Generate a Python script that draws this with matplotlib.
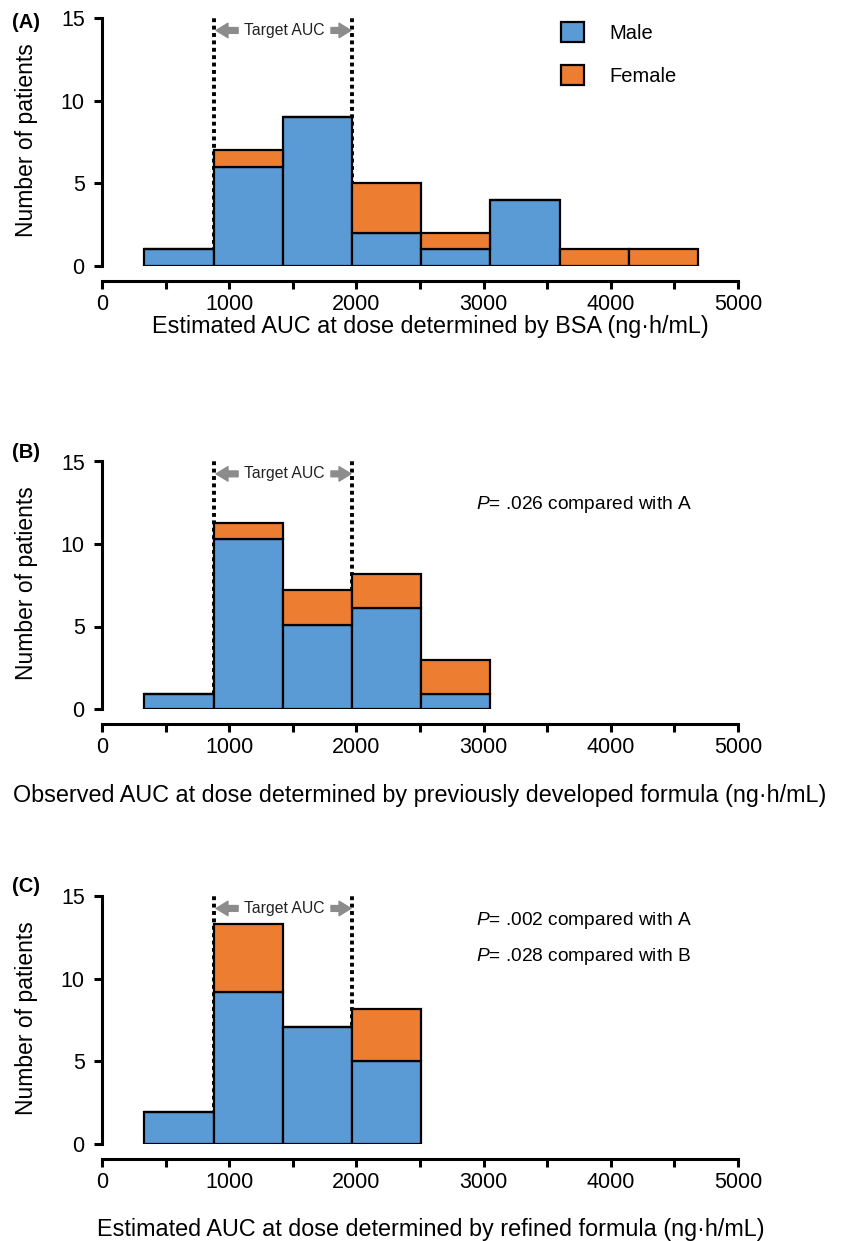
import matplotlib
matplotlib.use("Agg")
import matplotlib.pyplot as plt
import numpy as np

plt.rcParams['font.family'] = ['Liberation Sans', 'DejaVu Sans']
plt.rcParams['mathtext.fontset'] = 'custom'
plt.rcParams['mathtext.rm'] = 'Liberation Sans'
plt.rcParams['mathtext.it'] = 'Liberation Sans:italic'

# bin layout (ng*h/mL)
bin_start = 333
bin_width = 544
target_lo = 877
target_hi = 1965

# panel A: estimated AUC, BSA dosing
male_a = [1, 6, 9, 2, 1, 4, 0, 0]
female_a = [0, 1, 0, 3, 1, 0, 1, 1]
# panel B: observed AUC, previous formula
male_b = [0.9, 10.3, 5.1, 6.1, 0.9]
female_b = [0, 1.0, 2.1, 2.1, 2.1]
# panel C: estimated AUC, refined formula
male_c = [1.95, 9.2, 7.1, 5.05]
female_c = [0, 4.1, 0, 3.1]

xlabels = [
    "Estimated AUC at dose determined by BSA (ng\u00b7h/mL)",
    "Observed AUC at dose determined by previously developed formula (ng\u00b7h/mL)",
    "Estimated AUC at dose determined by refined formula (ng\u00b7h/mL)",
]
panel_tags = ["(A)", "(B)", "(C)"]
p_texts = [
    [],
    [(12.4, "$P$= .026 compared with A")],
    [(13.55, "$P$= .002 compared with A"), (11.37, "$P$= .028 compared with B")],
]

blue = '#5B9BD5'
orange = '#ED7D31'

W, H = 849, 1241
fig = plt.figure(figsize=(W / 100, H / 100), dpi=100)

# pixel geometry of each panel: (y of zero, px per patient, xlabel centre y, tag y)
geom = [
    (266, 16.53, 326, 22),
    (709, 16.50, 795, 453),
    (1144, 16.53, 1229, 887),
]
left_px, right_px = 102, 738
ytop = 15.2

for i, (male, female) in enumerate([(male_a, female_a), (male_b, female_b), (male_c, female_c)]):
    y0, ppu, xl_y, tag_y = geom[i]
    h_px = ytop * ppu
    ax = fig.add_axes([left_px / W, (H - y0) / H, (right_px - left_px) / W, h_px / H])
    edges = bin_start + bin_width * np.arange(len(male))

    ax.vlines([target_lo, target_hi], 0, 15.15, colors='black', linestyles=(0, (1, 0.9)),
              linewidth=2.8, zorder=1)
    ax.bar(edges, male, width=bin_width, align='edge', color=blue, edgecolor='black',
           linewidth=1.6, zorder=2, label='Male')
    ax.bar(edges, female, bottom=male, width=bin_width, align='edge', color=orange,
           edgecolor='black', linewidth=1.6, zorder=2, label='Female')

    # target AUC marker
    ya = 14.25
    ax.text((target_lo + target_hi) / 2 + 10, ya, "Target AUC", ha='center', va='center',
            fontsize=11.3, color='#222222')
    arrow = dict(arrowstyle='simple,head_length=0.45,head_width=0.55,tail_width=0.22',
                 color='#8c8c8c', mutation_scale=19, shrinkA=0, shrinkB=0)
    ax.annotate('', xy=(target_lo + 20, ya), xytext=(1070, ya), arrowprops=arrow)
    ax.annotate('', xy=(target_hi - 8, ya), xytext=(1800, ya), arrowprops=arrow)

    for yy, txt in p_texts[i]:
        ax.text(2940, yy, txt, ha='left', va='center', fontsize=13.8)

    ax.set_xlim(0, 5000)
    ax.set_ylim(0, ytop)
    ax.set_xticks([0, 1000, 2000, 3000, 4000, 5000])
    ax.set_xticks(np.arange(500, 5000, 1000), minor=True)
    ax.set_yticks([0, 5, 10, 15])
    for s in ['top', 'right']:
        ax.spines[s].set_visible(False)
    ax.spines['bottom'].set_position(('outward', 11))
    ax.spines['bottom'].set_bounds(0, 5000)
    ax.spines['left'].set_bounds(0, 15)
    for s in ['bottom', 'left']:
        ax.spines[s].set_linewidth(2.2)
    ax.tick_params(axis='x', which='both', direction='out', length=6, width=2.2,
                   labelsize=15.5, pad=3)
    ax.tick_params(axis='y', direction='out', length=5.5, width=2.2, labelsize=15.5, pad=7)

    ax.set_ylabel("Number of patients", fontsize=16.5)
    ax.yaxis.set_label_coords((38 - left_px) / (right_px - left_px), 0.5)
    ax.set_xlabel(xlabels[i], fontsize=16.8)
    ax.xaxis.set_label_coords(0.517 if i != 1 else 0.5, -(xl_y - 11 - y0) / h_px)

    fig.text(12 / W, 1 - tag_y / H, panel_tags[i], fontsize=14.5, fontweight='bold',
             ha='left', va='center')

    if i == 0:
        ax.legend(loc='upper left', bbox_to_anchor=(561 / W, 1 - 22 / H),
                  bbox_transform=fig.transFigure, frameon=False, fontsize=14.5,
                  handlelength=1.15, handleheight=1.15, labelspacing=1.1,
                  handletextpad=1.25, borderpad=0, borderaxespad=0)

fig.savefig("out.png", dpi=100)
